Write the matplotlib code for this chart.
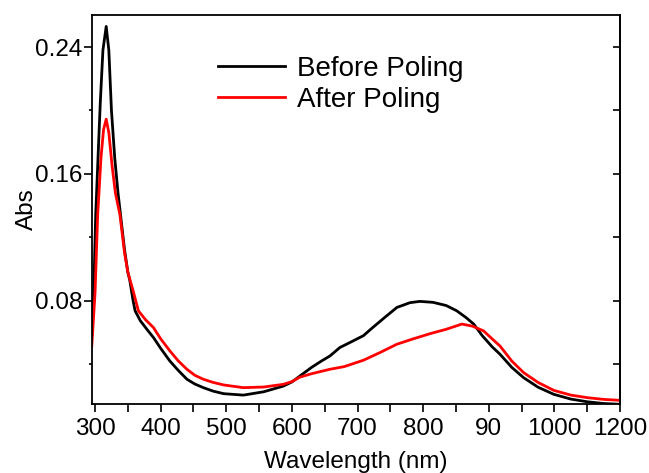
import matplotlib
matplotlib.use('Agg')
import matplotlib.pyplot as plt

plt.rcParams['font.family'] = ['Liberation Sans', 'DejaVu Sans']

#Wavelength (nm) and absorbance
wlBefore = [295, 298, 301, 305, 308, 312, 317, 321, 325, 330, 335, 340, 345, 350, 353, 358,
            361, 369, 379, 389, 400, 414, 427, 440, 452, 465, 480, 496, 526, 557, 587, 600,
            612, 630, 645, 658, 673, 690, 709, 720, 740, 760, 780, 795, 815, 835, 851, 865,
            877, 890, 905, 917, 935, 953, 975, 999, 1025, 1050, 1075, 1100]
absBefore = [0.058, 0.085, 0.134, 0.175, 0.205, 0.238, 0.253, 0.238, 0.200, 0.170, 0.148, 0.130,
             0.112, 0.098, 0.0927, 0.080, 0.0737, 0.0674, 0.062, 0.0568, 0.050, 0.042, 0.036,
             0.0305, 0.0275, 0.0252, 0.023, 0.0214, 0.0205, 0.0226, 0.0262, 0.0288, 0.0325,
             0.038, 0.042, 0.0452, 0.0505, 0.054, 0.058, 0.062, 0.069, 0.0758, 0.0788, 0.0796,
             0.079, 0.077, 0.0737, 0.0695, 0.0653, 0.058, 0.051, 0.0463, 0.038, 0.0315, 0.0255,
             0.021, 0.018, 0.0163, 0.0152, 0.0147]

wlAfter = [295, 300, 304, 309, 313, 317, 321, 326, 331, 338, 345, 350, 358, 366, 377, 389,
           400, 414, 427, 440, 452, 465, 480, 496, 526, 557, 587, 600, 612, 630, 658, 680,
           709, 734, 760, 785, 811, 835, 859, 875, 892, 905, 917, 935, 953, 975, 999, 1025,
           1050, 1075, 1100]
absAfter = [0.0515, 0.085, 0.134, 0.170, 0.188, 0.1945, 0.186, 0.165, 0.148, 0.134, 0.110,
            0.098, 0.0863, 0.0737, 0.068, 0.0631, 0.056, 0.0484, 0.042, 0.0368, 0.033, 0.0305,
            0.0285, 0.0269, 0.0252, 0.0256, 0.0273, 0.029, 0.0318, 0.034, 0.0368, 0.0385,
            0.0425, 0.0473, 0.0526, 0.056, 0.0593, 0.062, 0.0653, 0.064, 0.061, 0.056, 0.0515,
            0.042, 0.0347, 0.0285, 0.0235, 0.0205, 0.0189, 0.0178, 0.0172]

#Tick positions and the labels as printed in the figure
xMajor = [300, 400, 500, 600, 700, 800, 900, 1000, 1100]
xLabels = ['300', '400', '500', '600', '700', '800', '90', '1000', '1200']
xMinor = [350, 450, 550, 650, 750, 850, 950, 1050]
yMajor = [0.08, 0.16, 0.24]
yLabels = ['0.08', '0.16', '0.24']
yMinor = [0.04, 0.12, 0.20]

fig = plt.figure(figsize=(6.49, 4.73), dpi=100)
ax = fig.add_axes([0.1418, 0.1459, 0.8136, 0.8224])

ax.plot(wlBefore, absBefore, color='black', lw=2.0, label='Before Poling')
ax.plot(wlAfter, absAfter, color='#ff0000', lw=2.0, label='After Poling')

ax.set_xlim(295.4, 1100)
ax.set_ylim(0.0149, 0.2602)

for side in ['left', 'right', 'top', 'bottom']:
    ax.spines[side].set_linewidth(1.3)

ax.set_xticks(xMajor)
ax.set_xticklabels(xLabels)
ax.set_xticks(xMinor, minor=True)
ax.set_yticks(yMajor)
ax.set_yticklabels(yLabels)
ax.set_yticks(yMinor, minor=True)

ax.tick_params(axis='x', which='major', direction='out', length=6, width=1.2, labelsize=17.5, pad=4)
ax.tick_params(axis='x', which='minor', direction='out', length=6, width=1.2)
ax.tick_params(axis='y', which='major', direction='out', length=6, width=1.2, labelsize=17.5, pad=1)
ax.tick_params(axis='y', which='minor', direction='out', length=2.5, width=1.2)

#Right side ticks point inward, no labels
right = ax.secondary_yaxis('right')
right.set_yticks(yMajor + yMinor)
right.tick_params(direction='in', length=5, width=1.2, labelright=False)
right.spines['right'].set_linewidth(1.3)

ax.set_xlabel('Wavelength (nm)', fontsize=17.5, labelpad=8)
ax.set_ylabel('Abs', fontsize=17.5, labelpad=-2.5)

ax.legend(loc='upper left', bbox_to_anchor=(0.2386, 0.895), frameon=False, fontsize=20,
          handlelength=2.41, handletextpad=0.43, labelspacing=0.19, borderpad=0, borderaxespad=0)

fig.savefig('out.png', dpi=100)
